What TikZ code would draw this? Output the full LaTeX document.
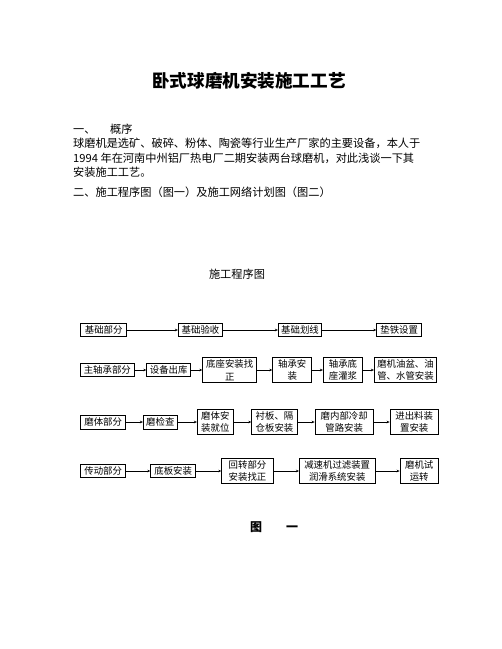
\documentclass[tikz,border=0pt]{standalone}
\usepackage{fontspec}
\setmainfont{Noto Sans CJK SC}
\usetikzlibrary{arrows.meta}
\begin{document}
\begin{tikzpicture}[x=1pt,y=-1pt,
  box/.style={draw,line width=0.8pt,inner sep=1pt,align=center,font=\fontsize{9.4}{12.5}\selectfont,minimum height=13pt},
  tall/.style={box,minimum height=25.5pt},
  arr/.style={line width=0.8pt,-{Stealth[length=3pt,width=2.6pt]}},
  txt/.style={anchor=west,inner sep=0pt,font=\fontsize{11.2}{14}\selectfont}]
\useasboundingbox[fill=white] (0,0) rectangle (502,649);
\node[font=\fontsize{17.6}{20}\selectfont\bfseries] (title) at (249,81) {卧式球磨机安装施工工艺};
\node[txt] (p1) at (73,129) {一、\hspace{1.3em}概序};
\node[txt] (p2) at (73,143) {球磨机是选矿、破碎、粉体、陶瓷等行业生产厂家的主要设备，本人于};
\node[txt] (p3) at (73,158) {1994 年在河南中州铝厂热电厂二期安装两台球磨机，对此浅谈一下其};
\node[txt] (p4) at (73,172) {安装施工工艺。};
\node[txt] (p5) at (73,192) {二、施工程序图（图一）及施工网络计划图（图二）};
\node[font=\fontsize{11.2}{14}\selectfont] (head) at (237,274) {施工程序图};
\node[box,minimum width=46pt] (jcbf) at (103.7,330) {基础部分};
\node[box,minimum width=44.4pt] (jcys) at (200.5,330) {基础验收};
\node[box,minimum width=43.4pt] (jchx) at (300,330) {基础划线};
\node[box,minimum width=45pt] (dtsz) at (399.2,330) {垫铁设置};
\draw[arr] (jcbf) -- (jcys);
\draw[arr] (jcys) -- (jchx);
\draw[arr] (jchx) -- (dtsz);
\node[box,minimum width=53.3pt] (zzc) at (107.3,370) {主轴承部分};
\node[box,minimum width=44pt] (sbck) at (168.7,370) {设备出库};
\node[tall,minimum width=54pt] (dzaz) at (229.7,370) {底座安装找\\正};
\node[tall,minimum width=39pt] (zcaz) at (292.2,370) {轴承安\\装};
\node[tall,minimum width=39.4pt] (zcgj) at (343,370) {轴承底\\座灌浆};
\node[tall,minimum width=62.4pt] (yppg) at (405.5,370) {磨机油盆、油\\管、水管安装};
\draw[arr] (zzc) -- (sbck);
\draw[arr] (sbck) -- (dzaz);
\draw[arr] (dzaz) -- (zcaz);
\draw[arr] (zcaz) -- (zcgj);
\draw[arr] (zcgj) -- (yppg);
\node[box,minimum width=45pt,minimum height=14pt] (mtbf) at (103.2,422) {磨体部分};
\node[box,minimum width=34pt,minimum height=14pt] (mjc) at (160.3,422) {磨检查};
\node[tall,minimum width=36pt] (mtjw) at (215.3,422) {磨体安\\装就位};
\node[tall,minimum width=45.6pt] (cbaz) at (274.5,422) {衬板、隔\\仓板安装};
\node[tall,minimum width=58.3pt] (lqgl) at (344.2,422) {磨内部冷却\\管路安装};
\node[tall,minimum width=48.3pt] (jclz) at (414.2,422) {进出料装\\置安装};
\draw[arr] (mtbf) -- (mjc);
\draw[arr] (mjc) -- (mtjw);
\draw[arr] (mtjw) -- (cbaz);
\draw[arr] (cbaz) -- (lqgl);
\draw[arr] (lqgl) -- (jclz);
\node[box,minimum width=45pt,minimum height=13.5pt] (cdbf) at (103.2,471) {传动部分};
\node[box,minimum width=45pt,minimum height=13.5pt] (dbaz) at (173.2,471) {底板安装};
\node[tall,minimum width=51.6pt] (hzbf) at (247.5,471) {回转部分\\安装找正};
\node[tall,minimum width=75.7pt] (jsrh) at (337.2,471) {减速机过滤装置\\润滑系统安装};
\node[tall,minimum width=38.3pt] (syz) at (419.2,471) {磨机试\\运转};
\draw[arr] (cdbf) -- (dbaz);
\draw[arr] (dbaz) -- (hzbf);
\draw[arr] (hzbf) -- (jsrh);
\draw[arr] (jsrh) -- (syz);
\node[font=\fontsize{12}{14}\selectfont\bfseries] (fig) at (274,527) {图\hspace{2em}一};
\end{tikzpicture}
\end{document}
